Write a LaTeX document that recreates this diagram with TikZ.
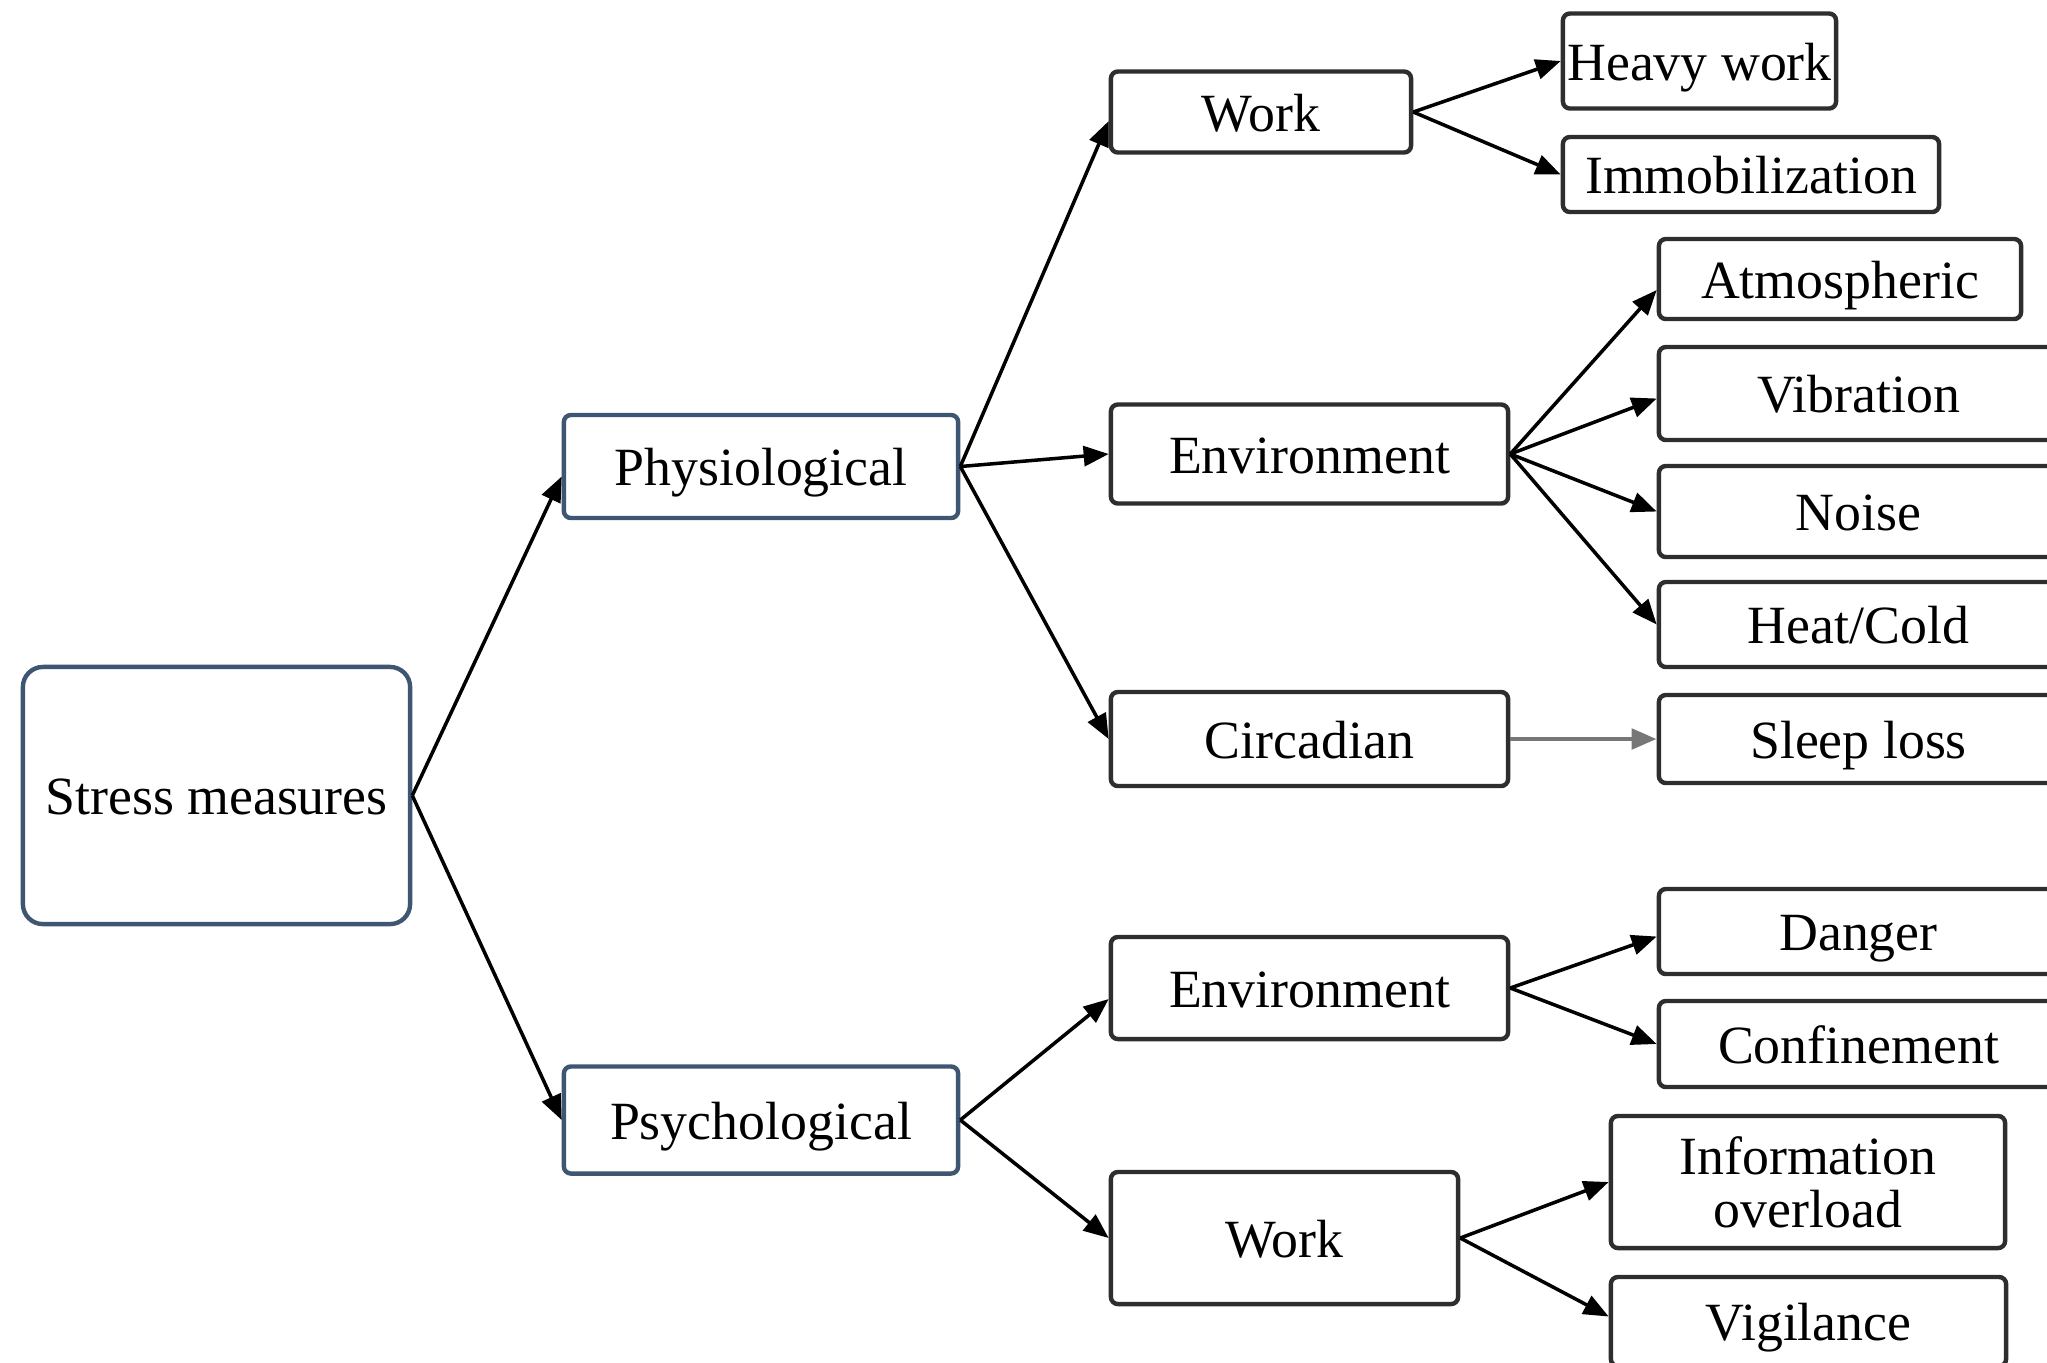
\documentclass[tikz,border=0pt]{standalone}
\usepackage{fontspec}
\setmainfont{Liberation Serif}
\usetikzlibrary{arrows.meta,calc}
\definecolor{bluegrey}{HTML}{3F5673}
\definecolor{boxgrey}{HTML}{2E2E2E}
\definecolor{linegrey}{HTML}{777777}
\tikzset{
  plainbox/.style={draw=boxgrey, line width=1.25pt, rounded corners=0.07cm, inner sep=0pt, align=center,
    font=\fontsize{15.3pt}{17pt}\selectfont, fill=white},
  base/.style={plainbox, text height=0.44cm, text depth=0.06cm},
  bbox/.style={base, draw=bluegrey},
  conn/.style={line width=1pt, -{Triangle[length=0.25cm,width=0.2cm]}},
}
\begin{document}
\begin{tikzpicture}[x=0.01cm,y=-0.01cm]
\useasboundingbox (0,0) rectangle (2047,1362);
\clip (0,0) rectangle (2047,1362);
% first level
\node[bbox, rounded corners=0.2cm, minimum width=3.87cm, minimum height=2.57cm] (stress) at (216.5,795.5) {Stress measures};
% second level
\node[bbox, minimum width=3.94cm, minimum height=1.03cm] (phys) at (761,466.5) {Physiological};
\node[bbox, minimum width=3.94cm, minimum height=1.07cm] (psych) at (761,1120) {Psychological};
% third level
\node[base, minimum width=3.00cm, minimum height=0.81cm] (work1) at (1261,112) {Work};
\node[base, minimum width=3.97cm, minimum height=0.99cm] (env1) at (1309.5,454) {Environment};
\node[base, minimum width=3.97cm, minimum height=0.94cm] (circ) at (1309.5,739) {Circadian};
\node[base, minimum width=3.97cm, minimum height=1.02cm] (env2) at (1309.5,988) {Environment};
\node[base, minimum width=3.47cm, minimum height=1.32cm] (work2) at (1284.5,1238) {Work};
% fourth level
\node[base, minimum width=2.73cm, minimum height=0.95cm] (heavy) at (1699.5,61) {Heavy work};
\node[base, minimum width=3.76cm, minimum height=0.75cm] (immob) at (1751,174.5) {Immobilization};
\node[base, minimum width=3.62cm, minimum height=0.80cm] (atm) at (1840,279) {Atmospheric};
\node[base, minimum width=3.99cm, minimum height=0.93cm] (vib) at (1858.5,393.5) {Vibration};
\node[base, minimum width=3.99cm, minimum height=0.91cm] (noise) at (1858.5,511.5) {Noise};
\node[base, minimum width=3.99cm, minimum height=0.85cm] (heat) at (1858.5,624.5) {Heat/Cold};
\node[base, minimum width=3.99cm, minimum height=0.88cm] (sleep) at (1858.5,739) {Sleep loss};
\node[base, minimum width=3.99cm, minimum height=0.85cm] (danger) at (1858.5,931.5) {Danger};
\node[base, minimum width=3.99cm, minimum height=0.86cm] (conf) at (1858.5,1044) {Confinement};
\node[plainbox, minimum width=3.94cm, minimum height=1.32cm] (info) at (1808,1182) {Information\\[-2pt]overload};
\node[base, minimum width=3.95cm, minimum height=0.89cm] (vig) at (1808.5,1321.5) {Vigilance};
% connectors
\draw[conn] (stress.east) -- ([yshift=-0.1cm]phys.west);
\draw[conn] (stress.east) -- (psych.west);
\draw[conn] (phys.east) -- ([yshift=-0.09cm]work1.west);
\draw[conn] (phys.east) -- (env1.west);
\draw[conn] (phys.east) -- (circ.west);
\draw[conn] (psych.east) -- ([yshift=-0.11cm]env2.west);
\draw[conn] (psych.east) -- (work2.west);
\draw[conn] (work1.east) -- (heavy.west);
\draw[conn] (work1.east) -- (immob.west);
\draw[conn] (env1.east) -- ([yshift=-0.11cm]atm.west);
\draw[conn] (env1.east) -- ([yshift=-0.05cm]vib.west);
\draw[conn] (env1.east) -- (noise.west);
\draw[conn] (env1.east) -- (heat.west);
\draw[conn, draw=linegrey, line width=1.4pt] (circ.east) -- (sleep.west);
\draw[conn] (env2.east) -- ([yshift=-0.05cm]danger.west);
\draw[conn] (env2.east) -- (conf.west);
\draw[conn] (work2.east) -- (info.west);
\draw[conn] (work2.east) -- ([yshift=0.05cm]vig.west);
\end{tikzpicture}
\end{document}
